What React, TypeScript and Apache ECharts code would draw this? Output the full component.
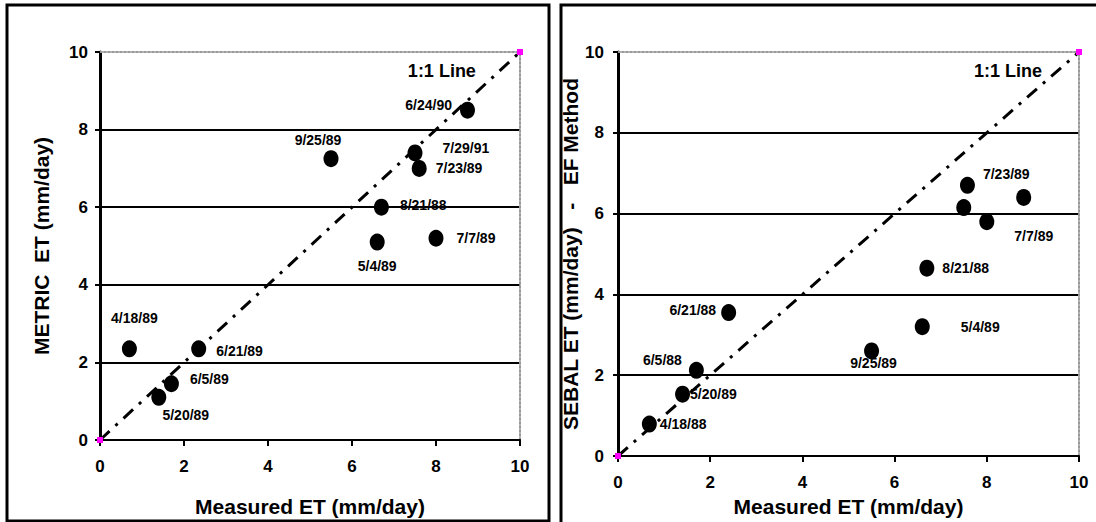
import React, { useEffect, useRef } from "react";
import * as echarts from "echarts";

// ---------- data ----------
const xTicks = [0, 2, 4, 6, 8, 10];
const oneToOneX = [0, 10];
const oneToOneY = [0, 10];

// Left panel: METRIC vs measured
const metricNames = ["6/24/90", "9/25/89", "7/29/91", "7/23/89", "8/21/88", "5/4/89", "7/7/89", "4/18/89", "6/21/89", "6/5/89", "5/20/89"];
const metricMeasured = [8.75, 5.5, 7.5, 7.6, 6.7, 6.6, 8.0, 0.7, 2.35, 1.7, 1.4];
const metricET = [8.5, 7.25, 7.4, 7.0, 6.0, 5.1, 5.2, 2.35, 2.35, 1.45, 1.1];
const metricLineLabel = [8.14, 9.5];

// Right panel: SEBAL (EF method) vs measured
const sebalNames = ["7/23/89", "", "", "7/7/89", "8/21/88", "6/21/88", "5/4/89", "9/25/89", "6/5/88", "5/20/89", "4/18/88"];
const sebalMeasured = [7.58, 8.8, 7.5, 8.0, 6.7, 2.4, 6.6, 5.5, 1.7, 1.4, 0.68];
const sebalET = [6.7, 6.4, 6.15, 5.8, 4.65, 3.55, 3.2, 2.6, 2.12, 1.53, 0.79];
const sebalLineLabel = [8.46, 9.53];

// ---------- label placement (style) ----------
const metricLabelPos = ["left", "top", "right", "right", "right", "bottom", "right", "top", "right", "right", "bottom"];
const metricLabelDist = [8, 3, 20, 9, 11, 8, 13, 15, 10, 11, 2];
const metricLabelOff = [[0, -5], [-13, 0], [0, -5], [0, 0], [0, -2], [0, 0], [0, 0], [5, 0], [0, 2], [0, -5], [27, 0]];

const sebalLabelPos = ["right", "right", "right", "right", "right", "left", "right", "bottom", "left", "right", "right"];
const sebalLabelDist = [8, 5, 5, 20, 8, 5, 31, 0, 7, 0, 3];
const sebalLabelOff = [[0, -11], [0, 0], [0, 0], [0, 14], [0, 0], [0, -3], [0, 0], [2, -3], [0, -10], [0, 0], [0, 0]];

const FONT = "'Liberation Sans', Arial, sans-serif";

function buildPoints(xs: number[], ys: number[], names: string[], pos: string[], dist: number[], off: number[][]) {
  return xs.map((x, i) => ({
    value: [x, ys[i]],
    name: names[i],
    label: { position: pos[i], distance: dist[i], offset: off[i] },
  }));
}

function axesFor(gi: number, yName: string, yNameGap: number, yLabelMargin: number) {
  const xBottom = {
    gridIndex: gi,
    type: "value",
    min: 0,
    max: 10,
    interval: 2,
    position: "bottom",
    axisLine: { show: true, onZero: false, lineStyle: { color: "#000", width: 2 } },
    axisTick: { show: true, inside: false, length: 6, lineStyle: { color: "#000", width: 2 } },
    axisLabel: {
      margin: 18,
      fontSize: 17,
      fontWeight: "bold",
      fontFamily: FONT,
      color: "#000",
      formatter: (v: number) => (xTicks.includes(v) ? String(v) : ""),
    },
    splitLine: { show: false },
    name: "Measured ET (mm/day)",
    nameLocation: "middle",
    nameGap: gi === 0 ? 56 : 40,
    nameTextStyle: { fontSize: 21, fontWeight: "bold", fontFamily: FONT, color: "#000" },
  };
  const xTop = {
    gridIndex: gi,
    type: "value",
    min: 0,
    max: 10,
    position: "top",
    axisLine: { show: true, onZero: false, lineStyle: { color: "#999", width: 2, type: "dotted" } },
    axisTick: { show: false },
    axisLabel: { show: false },
    splitLine: { show: false },
  };
  const yLeft = {
    gridIndex: gi,
    type: "value",
    min: 0,
    max: 10,
    interval: 2,
    position: "left",
    axisLine: { show: true, onZero: false, lineStyle: { color: "#000", width: 3 } },
    axisTick: { show: true, inside: false, length: 5, lineStyle: { color: "#000", width: 2 } },
    axisLabel: { margin: yLabelMargin, fontSize: 17, fontWeight: "bold", fontFamily: FONT, color: "#000" },
    splitLine: { show: true, showMinLine: false, showMaxLine: false, lineStyle: { color: "#000", width: 2 } },
    name: yName,
    nameLocation: "middle",
    nameGap: yNameGap,
    nameRotate: 90,
    nameTextStyle: { fontSize: 21, fontWeight: "bold", fontFamily: FONT, color: "#000" },
  };
  const yRight = {
    gridIndex: gi,
    type: "value",
    min: 0,
    max: 10,
    position: "right",
    axisLine: { show: true, onZero: false, lineStyle: { color: "#999", width: 2, type: "dotted" } },
    axisTick: { show: false },
    axisLabel: { show: false },
    splitLine: { show: false },
  };
  return { x: [xBottom, xTop], y: [yLeft, yRight] };
}

function seriesFor(axisIdx: number, points: any[], lineLabel: number[]) {
  return [
    {
      type: "line",
      xAxisIndex: axisIdx,
      yAxisIndex: axisIdx,
      data: oneToOneX.map((x, i) => [x, oneToOneY[i]]),
      showSymbol: true,
      symbol: "rect",
      symbolSize: 6,
      itemStyle: { color: "#ff00ff", opacity: 1 },
      lineStyle: { color: "#000", width: 3, type: [13, 8, 3, 8], opacity: 1 },
      z: 3,
    },
    {
      type: "scatter",
      xAxisIndex: axisIdx,
      yAxisIndex: axisIdx,
      data: points,
      symbol: "circle",
      symbolSize: [15, 17],
      itemStyle: { color: "#000", opacity: 1 },
      label: {
        show: true,
        formatter: "{b}",
        fontSize: 14,
        fontWeight: "bold",
        fontFamily: FONT,
        color: "#000",
      },
      z: 4,
    },
    {
      type: "scatter",
      xAxisIndex: axisIdx,
      yAxisIndex: axisIdx,
      data: [{ value: lineLabel, name: "1:1 Line" }],
      symbolSize: 0,
      itemStyle: { opacity: 1 },
      label: {
        show: true,
        position: "inside",
        formatter: "{b}",
        fontSize: 18,
        fontWeight: "bold",
        fontFamily: FONT,
        color: "#000",
      },
      z: 5,
    },
  ];
}

export default function App() {
  const ref = useRef<HTMLDivElement>(null);
  useEffect(() => {
    if (!ref.current) return;
    const chart = echarts.init(ref.current, undefined, { renderer: "svg" });
    const a0 = axesFor(0, "METRIC  ET (mm/day)", 48, 12);
    const a1 = axesFor(1, "SEBAL ET (mm/day)   -   EF Method", 30, 14);
    const option: any = {
      animation: false,
      backgroundColor: "#fff",
      grid: [
        { left: 100, top: 52, width: 420, height: 389, containLabel: false },
        { left: 618, top: 52, width: 461, height: 407, containLabel: false },
      ],
      xAxis: [...a0.x, ...a1.x],
      yAxis: [...a0.y, ...a1.y],
      series: [
        ...seriesFor(0, buildPoints(metricMeasured, metricET, metricNames, metricLabelPos, metricLabelDist, metricLabelOff), metricLineLabel),
        ...seriesFor(2, buildPoints(sebalMeasured, sebalET, sebalNames, sebalLabelPos, sebalLabelDist, sebalLabelOff), sebalLineLabel),
      ],
      graphic: [
        {
          type: "rect",
          shape: { x: 7, y: 5, width: 542, height: 516 },
          style: { fill: "none", stroke: "#000", lineWidth: 3 },
          z: 10,
        },
        {
          type: "rect",
          shape: { x: 561, y: 5, width: 700, height: 700 },
          style: { fill: "none", stroke: "#000", lineWidth: 3 },
          z: 10,
        },
      ],
    };
    chart.setOption(option);
    return () => chart.dispose();
  }, []);
  return (
    <div
      ref={ref}
      style={{ position: "fixed", left: 0, top: 0, width: 1096, height: 522, background: "#fff" }}
    />
  );
}
